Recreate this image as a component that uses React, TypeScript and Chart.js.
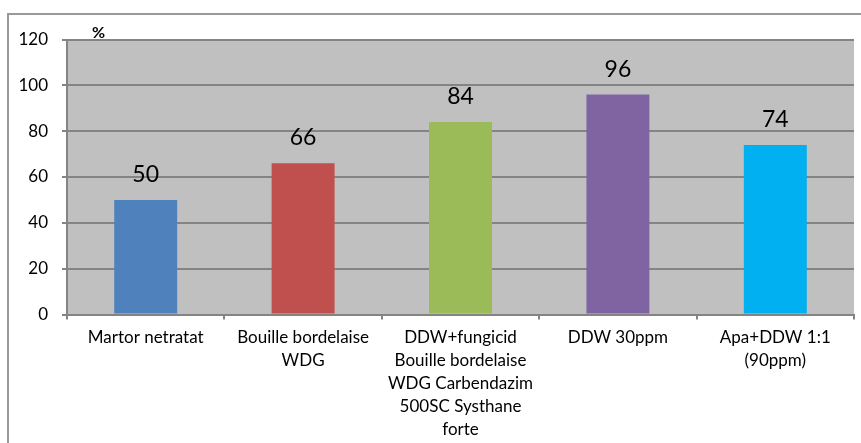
import React, { useEffect, useRef } from "react";
import { Chart, registerables } from "chart.js";

Chart.register(...registerables);

// Treatments on the x axis (multi-line labels are arrays)
const categories: (string | string[])[] = [
  "Martor netratat",
  ["Bouille bordelaise", "WDG"],
  ["DDW+fungicid", "Bouille bordelaise", "WDG Carbendazim", "500SC Systhane", "forte"],
  "DDW 30ppm",
  ["Apa+DDW 1:1", "(90ppm)"],
];

// Percentage per treatment
const values = [50, 66, 84, 96, 74];

const barColors = ["#4F81BD", "#C0504D", "#9BBB59", "#8064A2", "#00B0F0"];

const yMin = 0;
const yMax = 120;
const yStep = 20;

const unitLabel = "%";

const FONT = "Lato, 'Open Sans', sans-serif";
const GRID = "#848484";

// Frame around the figure and the grey plot background
const backdrop = {
  id: "backdrop",
  beforeDraw(chart: Chart) {
    const { ctx, chartArea } = chart;
    ctx.save();
    ctx.fillStyle = "#ffffff";
    ctx.fillRect(0, 0, chart.width, chart.height);
    ctx.strokeStyle = "#9a9a9a";
    ctx.lineWidth = 2;
    ctx.strokeRect(8, 14, chart.width + 20, chart.height + 20);
    ctx.fillStyle = "#C0C0C0";
    ctx.fillRect(chartArea.left, chartArea.top, chartArea.right - chartArea.left, chartArea.bottom - chartArea.top);
    ctx.restore();
  },
};

// Value above each bar and the unit sign next to the y axis
const valueLabels = {
  id: "valueLabels",
  afterDatasetsDraw(chart: Chart) {
    const { ctx, chartArea } = chart;
    const meta = chart.getDatasetMeta(0);
    ctx.save();
    ctx.fillStyle = "#000";
    ctx.textAlign = "center";
    ctx.textBaseline = "alphabetic";
    ctx.font = `23px ${FONT}`;
    meta.data.forEach((bar: any, i: number) => {
      ctx.fillText(String(values[i]), bar.x, bar.y - 18);
    });
    ctx.font = `bold 16px ${FONT}`;
    ctx.textAlign = "left";
    ctx.fillText(unitLabel, chartArea.left + 25, 38);
    ctx.restore();
  },
};

export default function App() {
  const canvasRef = useRef<HTMLCanvasElement | null>(null);

  useEffect(() => {
    if (!canvasRef.current) return;
    const chart = new Chart(canvasRef.current, {
      type: "bar",
      data: {
        labels: categories,
        datasets: [
          {
            data: values,
            backgroundColor: barColors,
            borderWidth: 0,
            categoryPercentage: 1,
            barPercentage: 0.4,
          },
        ],
      },
      options: {
        responsive: false,
        maintainAspectRatio: false,
        animation: false,
        layout: { padding: { top: 39.5, right: 7, left: 0, bottom: 0 } },
        plugins: {
          legend: { display: false },
          tooltip: { enabled: false },
        },
        scales: {
          x: {
            grid: {
              offset: true,
              drawOnChartArea: false,
              drawTicks: true,
              tickLength: 5,
              color: GRID,
              lineWidth: 2,
            },
            border: { display: true, color: GRID, width: 2 },
            ticks: {
              autoSkip: false,
              maxRotation: 0,
              minRotation: 0,
              padding: 7,
              color: "#000",
              font: { family: FONT, size: 17, lineHeight: "23px" },
            },
            afterFit(scale: any) {
              scale.height = 443 - 314.5;
            },
          },
          y: {
            min: yMin,
            max: yMax,
            grid: {
              drawTicks: true,
              tickLength: 5,
              color: GRID,
              lineWidth: 2,
            },
            border: { display: true, color: GRID, width: 2 },
            ticks: {
              stepSize: yStep,
              padding: 14,
              color: "#000",
              font: { family: FONT, size: 17 },
            },
            afterFit(scale: any) {
              scale.width = 67;
            },
          },
        },
      },
      plugins: [backdrop, valueLabels],
    });
    return () => chart.destroy();
  }, []);

  return (
    <div style={{ position: "fixed", left: 0, top: 0, width: 861, height: 443, background: "#fff" }}>
      <canvas ref={canvasRef} width={861} height={443} style={{ display: "block" }} />
    </div>
  );
}
